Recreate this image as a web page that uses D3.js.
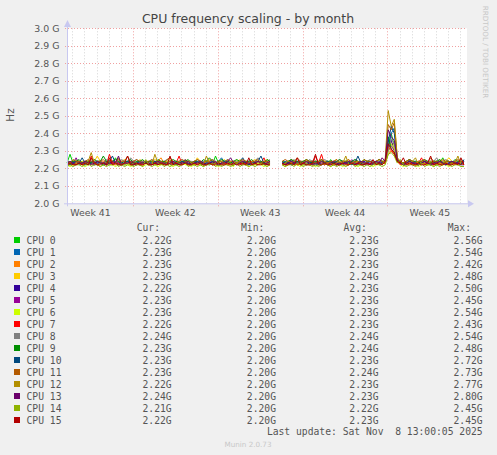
<!DOCTYPE html>
<html>
<head>
<meta charset="utf-8">
<script src="https://cdn.jsdelivr.net/npm/d3@7/dist/d3.min.js"></script>
<style>
body { margin:0; background:#f0f0f0; }
svg { display:block; }
text { font-family:"DejaVu Sans", sans-serif; }
.mono { font-family:"DejaVu Sans Mono", monospace; white-space:pre; }
</style>
</head>
<body>
<svg width="497" height="455"></svg>
<script>
/*
DATI
*/
var cpuNames = ["CPU 0","CPU 1","CPU 2","CPU 3","CPU 4","CPU 5","CPU 6","CPU 7",
	"CPU 8","CPU 9","CPU 10","CPU 11","CPU 12","CPU 13","CPU 14","CPU 15"];
var cpuColors = ["#00CC00","#0066B3","#FF8000","#FFCC00","#330099","#990099","#CCFF00","#FF0000",
	"#808080","#008F00","#00487D","#B35A00","#B38F00","#6B006B","#8FB300","#B30000"];

// legend columns
var curValues = ["2.22G","2.23G","2.23G","2.23G","2.22G","2.23G","2.23G","2.22G","2.24G","2.23G","2.23G","2.23G","2.22G","2.24G","2.21G","2.22G"];
var minValues = ["2.20G","2.20G","2.20G","2.20G","2.20G","2.20G","2.20G","2.20G","2.20G","2.20G","2.20G","2.20G","2.20G","2.20G","2.20G","2.20G"];
var avgValues = ["2.23G","2.23G","2.23G","2.24G","2.23G","2.23G","2.23G","2.23G","2.24G","2.24G","2.23G","2.24G","2.23G","2.23G","2.22G","2.23G"];
var maxValues = ["2.56G","2.54G","2.42G","2.48G","2.50G","2.45G","2.54G","2.43G","2.54G","2.48G","2.72G","2.73G","2.77G","2.80G","2.45G","2.45G"];

var yTicks = [2.0,2.1,2.2,2.3,2.4,2.5,2.6,2.7,2.8,2.9,3.0];

// one sample every 6 hours, GHz (null = no data)
var sampleStart = Date.UTC(2025,9,6,13,30);
var stepHours = 6;

var cpu0 = [2.23,2.28,2.23,2.22,2.23,2.24,2.22,2.23,2.23,2.22,2.24,2.23,2.22,2.23,2.24,2.23,2.26,2.23,2.22,2.23,2.24,2.22,
	2.23,2.22,2.24,2.23,2.23,2.22,2.23,2.24,2.22,2.23,2.23,2.24,2.22,2.23,2.23,2.22,2.24,2.23,2.22,2.23,2.24,2.23,
	2.22,2.23,2.24,2.23,2.22,2.27,2.23,2.22,2.23,2.24,2.23,2.22,2.23,2.23,2.24,2.22,2.23,2.23,2.22,2.24,2.23,2.23,
	2.23,2.22,null,null,null,2.23,2.22,2.23,2.24,2.23,2.22,2.23,2.23,2.24,2.22,2.23,2.23,2.22,2.24,2.23,2.22,2.25,
	2.23,2.22,2.23,2.24,2.23,2.22,2.23,2.23,2.24,2.22,2.23,2.23,2.22,2.24,2.23,2.23,2.22,2.24,2.33,2.40,2.33,2.25,
	2.23,2.22,2.23,2.24,2.23,2.22,2.23,2.23,2.24,2.22,2.23,2.23,2.22,2.23,2.26,2.23,2.22,2.24,2.23,2.22,2.23,2.23];
var cpu1 = [2.24,2.23,2.23,2.24,2.22,2.23,2.23,2.24,2.23,2.22,2.23,2.24,2.23,2.23,2.22,2.24,2.23,2.23,2.24,2.22,2.23,2.23,
	2.22,2.24,2.23,2.23,2.24,2.23,2.22,2.23,2.24,2.23,2.23,2.22,2.23,2.24,2.23,2.22,2.23,2.23,2.24,2.23,2.22,2.23,
	2.23,2.24,2.23,2.22,2.23,2.23,2.24,2.26,2.23,2.22,2.23,2.24,2.23,2.23,2.22,2.23,2.24,2.23,2.23,2.22,2.24,2.23,
	2.22,2.23,null,null,null,2.24,2.23,2.23,2.22,2.23,2.24,2.23,2.22,2.23,2.23,2.24,2.23,2.22,2.23,2.24,2.23,2.23,
	2.24,2.23,2.22,2.23,2.23,2.24,2.23,2.22,2.23,2.24,2.23,2.23,2.22,2.23,2.24,2.23,2.23,2.24,2.30,2.40,2.43,2.25,
	2.23,2.23,2.22,2.25,2.23,2.24,2.23,2.22,2.23,2.23,2.24,2.23,2.22,2.23,2.24,2.23,2.23,2.22,2.24,2.23,2.23,2.24];
var cpu2 = [2.23,2.22,2.24,2.23,2.23,2.22,2.23,2.24,2.23,2.23,2.22,2.23,2.24,2.22,2.23,2.23,2.24,2.23,2.22,2.23,2.23,2.24,
	2.23,2.22,2.23,2.24,2.23,2.22,2.23,2.23,2.24,2.26,2.23,2.22,2.23,2.24,2.23,2.23,2.22,2.23,2.24,2.23,2.22,2.23,
	2.24,2.23,2.22,2.23,2.23,2.24,2.22,2.23,2.23,2.24,2.23,2.22,2.23,2.23,2.24,2.23,2.22,2.23,2.24,2.23,2.23,2.22,
	2.23,2.24,null,null,null,2.23,2.22,2.23,2.24,2.23,2.22,2.23,2.23,2.25,2.23,2.22,2.24,2.23,2.23,2.22,2.23,2.24,
	2.23,2.22,2.23,2.24,2.23,2.23,2.22,2.24,2.23,2.23,2.22,2.23,2.24,2.23,2.22,2.23,2.23,2.23,2.28,2.30,2.29,2.24,
	2.23,2.22,2.24,2.23,2.23,2.22,2.23,2.24,2.23,2.22,2.23,2.23,2.24,2.23,2.22,2.23,2.24,2.23,2.23,2.22,2.23,2.23];
var cpu3 = [2.24,2.23,2.24,2.25,2.23,2.24,2.24,2.23,2.25,2.24,2.27,2.24,2.23,2.24,2.25,2.24,2.23,2.24,2.24,2.25,2.23,2.24,
	2.24,2.23,2.25,2.24,2.24,2.23,2.24,2.25,2.24,2.23,2.24,2.24,2.25,2.23,2.24,2.24,2.23,2.25,2.24,2.24,2.23,2.26,
	2.24,2.23,2.24,2.25,2.24,2.23,2.24,2.24,2.25,2.23,2.24,2.24,2.23,2.25,2.24,2.24,2.23,2.24,2.25,2.24,2.23,2.24,
	2.25,2.24,null,null,null,2.24,2.23,2.24,2.25,2.24,2.23,2.24,2.24,2.25,2.23,2.24,2.24,2.23,2.25,2.24,2.24,2.23,
	2.24,2.25,2.23,2.24,2.24,2.25,2.23,2.24,2.24,2.23,2.25,2.24,2.24,2.23,2.24,2.25,2.24,2.24,2.31,2.35,2.33,2.25,
	2.24,2.23,2.24,2.25,2.24,2.23,2.24,2.24,2.25,2.23,2.24,2.24,2.23,2.25,2.24,2.24,2.26,2.24,2.23,2.24,2.25,2.24];
var cpu4 = [2.23,2.23,2.22,2.24,2.23,2.23,2.22,2.23,2.24,2.23,2.22,2.23,2.23,2.24,2.22,2.23,2.23,2.24,2.23,2.22,2.23,2.23,
	2.24,2.23,2.22,2.23,2.23,2.24,2.23,2.22,2.23,2.24,2.23,2.23,2.22,2.23,2.24,2.23,2.23,2.25,2.22,2.23,2.24,2.23,
	2.23,2.22,2.23,2.24,2.23,2.23,2.22,2.23,2.24,2.23,2.22,2.23,2.23,2.24,2.23,2.22,2.23,2.23,2.24,2.22,2.23,2.23,
	2.24,2.23,null,null,null,2.23,2.22,2.23,2.25,2.23,2.24,2.22,2.23,2.23,2.24,2.23,2.22,2.23,2.24,2.23,2.23,2.22,
	2.23,2.24,2.23,2.22,2.23,2.23,2.24,2.23,2.22,2.23,2.24,2.23,2.23,2.22,2.23,2.24,2.23,2.23,2.33,2.36,2.30,2.24,
	2.23,2.22,2.23,2.24,2.23,2.23,2.22,2.23,2.24,2.23,2.22,2.23,2.24,2.23,2.23,2.22,2.23,2.24,2.23,2.23,2.22,2.22];
var cpu5 = [2.23,2.22,2.23,2.26,2.23,2.22,2.24,2.23,2.23,2.22,2.23,2.24,2.23,2.22,2.23,2.23,2.24,2.23,2.22,2.23,2.24,2.23,
	2.22,2.23,2.23,2.24,2.23,2.22,2.23,2.24,2.23,2.23,2.22,2.23,2.24,2.23,2.22,2.23,2.23,2.24,2.23,2.22,2.23,2.23,
	2.24,2.23,2.22,2.23,2.24,2.23,2.23,2.22,2.23,2.24,2.23,2.22,2.23,2.23,2.24,2.23,2.22,2.23,2.24,2.23,2.23,2.22,
	2.23,2.23,null,null,null,2.22,2.23,2.24,2.23,2.22,2.23,2.23,2.24,2.23,2.22,2.23,2.24,2.23,2.23,2.22,2.23,2.24,
	2.23,2.22,2.23,2.24,2.23,2.23,2.25,2.22,2.23,2.24,2.23,2.22,2.23,2.23,2.24,2.23,2.22,2.24,2.36,2.33,2.30,2.24,
	2.23,2.23,2.22,2.23,2.24,2.23,2.22,2.23,2.23,2.24,2.23,2.22,2.23,2.24,2.23,2.23,2.22,2.23,2.24,2.23,2.22,2.23];
var cpu6 = [2.22,2.21,2.22,2.22,2.23,2.22,2.21,2.22,2.22,2.23,2.22,2.21,2.22,2.23,2.22,2.22,2.21,2.22,2.23,2.22,2.22,2.21,
	2.22,2.23,2.22,2.21,2.22,2.22,2.23,2.22,2.21,2.22,2.22,2.23,2.22,2.21,2.22,2.22,2.23,2.22,2.22,2.21,2.22,2.23,
	2.22,2.21,2.22,2.23,2.22,2.22,2.21,2.22,2.23,2.22,2.22,2.21,2.25,2.22,2.23,2.22,2.21,2.22,2.22,2.23,2.22,2.21,
	2.22,2.22,null,null,null,2.22,2.21,2.22,2.23,2.22,2.22,2.21,2.22,2.23,2.22,2.22,2.21,2.22,2.22,2.23,2.22,2.21,
	2.22,2.23,2.22,2.21,2.22,2.22,2.23,2.22,2.21,2.22,2.22,2.23,2.22,2.21,2.22,2.22,2.23,2.23,2.29,2.34,2.31,2.24,
	2.22,2.21,2.22,2.23,2.22,2.22,2.21,2.22,2.23,2.22,2.22,2.21,2.22,2.23,2.22,2.22,2.21,2.22,2.23,2.22,2.22,2.23];
var cpu7 = [2.22,2.23,2.22,2.23,2.23,2.22,2.23,2.22,2.27,2.23,2.22,2.23,2.23,2.22,2.28,2.23,2.22,2.23,2.22,2.23,2.23,2.22,
	2.23,2.22,2.23,2.22,2.23,2.23,2.22,2.23,2.22,2.23,2.23,2.22,2.23,2.22,2.23,2.27,2.22,2.23,2.23,2.22,2.23,2.22,
	2.23,2.22,2.23,2.23,2.22,2.23,2.22,2.23,2.23,2.22,2.23,2.22,2.23,2.23,2.22,2.23,2.22,2.23,2.23,2.22,2.23,2.26,
	2.22,2.23,null,null,null,2.22,2.23,2.23,2.22,2.23,2.22,2.23,2.23,2.22,2.23,2.22,2.27,2.23,2.28,2.22,2.23,2.23,
	2.22,2.23,2.22,2.23,2.23,2.22,2.23,2.22,2.23,2.23,2.22,2.23,2.22,2.23,2.23,2.22,2.23,2.23,2.32,2.30,2.28,2.24,
	2.22,2.23,2.23,2.22,2.23,2.22,2.23,2.26,2.22,2.23,2.23,2.22,2.23,2.22,2.23,2.23,2.22,2.23,2.22,2.23,2.23,2.22];
var cpu8 = [2.24,2.23,2.24,2.25,2.24,2.23,2.24,2.24,2.25,2.23,2.24,2.24,2.23,2.25,2.24,2.24,2.23,2.24,2.25,2.24,2.23,2.26,
	2.24,2.25,2.23,2.24,2.24,2.23,2.25,2.24,2.24,2.23,2.24,2.25,2.24,2.23,2.24,2.24,2.25,2.23,2.24,2.24,2.23,2.25,
	2.24,2.24,2.23,2.24,2.25,2.24,2.23,2.24,2.24,2.25,2.23,2.24,2.24,2.23,2.25,2.24,2.24,2.23,2.24,2.26,2.24,2.23,
	2.24,2.25,null,null,null,2.24,2.23,2.24,2.24,2.25,2.23,2.24,2.24,2.23,2.25,2.24,2.24,2.23,2.24,2.25,2.24,2.23,
	2.24,2.24,2.25,2.23,2.24,2.24,2.23,2.25,2.24,2.24,2.23,2.24,2.25,2.24,2.23,2.24,2.24,2.24,2.30,2.37,2.34,2.25,
	2.24,2.23,2.24,2.25,2.24,2.23,2.24,2.24,2.25,2.23,2.24,2.24,2.26,2.23,2.24,2.25,2.24,2.23,2.24,2.24,2.25,2.24];
var cpu9 = [2.24,2.23,2.24,2.24,2.25,2.23,2.24,2.24,2.23,2.25,2.24,2.24,2.27,2.24,2.23,2.24,2.25,2.24,2.23,2.24,2.24,2.25,
	2.23,2.24,2.24,2.25,2.23,2.24,2.24,2.23,2.25,2.24,2.24,2.23,2.24,2.25,2.24,2.23,2.24,2.24,2.25,2.23,2.24,2.24,
	2.23,2.25,2.24,2.26,2.24,2.23,2.24,2.25,2.24,2.24,2.23,2.24,2.25,2.24,2.23,2.24,2.24,2.25,2.23,2.24,2.24,2.23,
	2.25,2.24,null,null,null,2.24,2.23,2.24,2.25,2.24,2.24,2.23,2.24,2.25,2.24,2.23,2.24,2.24,2.25,2.23,2.24,2.24,
	2.23,2.24,2.25,2.24,2.24,2.23,2.24,2.25,2.24,2.23,2.25,2.24,2.24,2.23,2.24,2.25,2.24,2.24,2.38,2.31,2.29,2.24,
	2.24,2.23,2.24,2.25,2.24,2.24,2.23,2.24,2.25,2.24,2.23,2.24,2.24,2.25,2.23,2.24,2.24,2.23,2.25,2.24,2.24,2.23];
var cpu10 = [2.23,2.22,2.23,2.24,2.23,2.26,2.23,2.22,2.23,2.24,2.23,2.23,2.22,2.23,2.24,2.27,2.23,2.22,2.23,2.23,2.24,2.23,
	2.22,2.23,2.24,2.23,2.23,2.22,2.23,2.24,2.23,2.22,2.23,2.23,2.24,2.23,2.22,2.23,2.24,2.23,2.23,2.22,2.23,2.24,
	2.23,2.22,2.23,2.23,2.24,2.23,2.22,2.23,2.24,2.23,2.23,2.22,2.23,2.24,2.26,2.23,2.22,2.23,2.23,2.24,2.27,2.23,
	2.22,2.23,null,null,null,2.23,2.24,2.23,2.22,2.23,2.23,2.24,2.23,2.22,2.23,2.24,2.23,2.23,2.22,2.23,2.24,2.23,
	2.23,2.22,2.23,2.24,2.23,2.23,2.22,2.23,2.27,2.23,2.22,2.23,2.24,2.23,2.23,2.22,2.23,2.24,2.35,2.44,2.40,2.25,
	2.23,2.22,2.23,2.24,2.23,2.23,2.22,2.23,2.24,2.23,2.22,2.23,2.23,2.24,2.23,2.22,2.23,2.24,2.23,2.23,2.22,2.25];
var cpu11 = [2.24,2.23,2.25,2.24,2.24,2.23,2.24,2.25,2.24,2.23,2.24,2.24,2.25,2.23,2.24,2.24,2.23,2.25,2.24,2.24,2.27,2.23,
	2.24,2.25,2.24,2.23,2.24,2.24,2.25,2.23,2.24,2.24,2.23,2.25,2.26,2.24,2.23,2.24,2.25,2.24,2.24,2.23,2.24,2.25,
	2.24,2.23,2.24,2.24,2.25,2.23,2.24,2.24,2.23,2.25,2.24,2.24,2.23,2.24,2.25,2.24,2.23,2.24,2.24,2.25,2.23,2.24,
	2.24,2.23,null,null,null,2.24,2.25,2.24,2.23,2.24,2.26,2.24,2.23,2.25,2.24,2.24,2.23,2.24,2.25,2.24,2.23,2.24,
	2.24,2.25,2.23,2.24,2.24,2.25,2.23,2.24,2.24,2.23,2.25,2.24,2.24,2.23,2.24,2.25,2.24,2.24,2.45,2.42,2.46,2.26,
	2.24,2.23,2.24,2.25,2.24,2.23,2.24,2.24,2.25,2.23,2.26,2.24,2.24,2.23,2.25,2.24,2.24,2.23,2.24,2.25,2.24,2.23];
var cpu12 = [2.22,2.23,2.22,2.23,2.23,2.22,2.23,2.24,2.29,2.23,2.22,2.23,2.23,2.22,2.23,2.24,2.23,2.26,2.22,2.23,2.23,2.22,
	2.23,2.23,2.22,2.23,2.24,2.23,2.22,2.28,2.23,2.22,2.23,2.23,2.24,2.22,2.23,2.23,2.22,2.23,2.24,2.23,2.22,2.23,
	2.23,2.22,2.27,2.23,2.22,2.23,2.23,2.24,2.22,2.23,2.23,2.22,2.23,2.24,2.23,2.22,2.23,2.23,2.22,2.24,2.23,2.22,
	2.23,2.23,null,null,null,2.22,2.23,2.24,2.23,2.22,2.23,2.23,2.22,2.24,2.23,2.22,2.23,2.23,2.24,2.22,2.23,2.23,
	2.22,2.23,2.24,2.23,2.27,2.22,2.23,2.23,2.24,2.22,2.23,2.23,2.22,2.23,2.24,2.23,2.22,2.25,2.53,2.44,2.48,2.26,
	2.23,2.22,2.23,2.23,2.24,2.26,2.22,2.23,2.23,2.22,2.24,2.23,2.22,2.23,2.23,2.24,2.22,2.23,2.23,2.27,2.22,2.23];
var cpu13 = [2.23,2.24,2.23,2.22,2.23,2.23,2.24,2.23,2.22,2.23,2.24,2.23,2.23,2.22,2.23,2.24,2.23,2.27,2.22,2.23,2.23,2.24,
	2.23,2.22,2.23,2.23,2.24,2.23,2.22,2.23,2.24,2.23,2.23,2.22,2.23,2.24,2.23,2.22,2.23,2.23,2.24,2.22,2.23,2.23,
	2.24,2.23,2.22,2.23,2.23,2.24,2.22,2.23,2.23,2.24,2.26,2.23,2.22,2.23,2.24,2.23,2.23,2.22,2.23,2.24,2.23,2.22,
	2.23,2.24,null,null,null,2.23,2.22,2.23,2.24,2.23,2.23,2.22,2.23,2.24,2.23,2.22,2.23,2.23,2.24,2.23,2.22,2.23,
	2.24,2.23,2.22,2.23,2.23,2.24,2.23,2.22,2.23,2.24,2.23,2.23,2.22,2.23,2.24,2.23,2.26,2.24,2.42,2.38,2.36,2.25,
	2.23,2.22,2.23,2.24,2.23,2.23,2.22,2.23,2.24,2.23,2.22,2.23,2.23,2.24,2.23,2.22,2.23,2.24,2.23,2.23,2.22,2.24];
var cpu14 = [2.21,2.22,2.21,2.22,2.22,2.21,2.22,2.23,2.21,2.22,2.22,2.21,2.22,2.21,2.22,2.22,2.23,2.21,2.22,2.21,2.22,2.22,
	2.21,2.22,2.22,2.21,2.25,2.22,2.21,2.22,2.22,2.23,2.21,2.22,2.21,2.22,2.22,2.21,2.22,2.23,2.21,2.22,2.22,2.21,
	2.22,2.21,2.22,2.22,2.23,2.21,2.22,2.21,2.22,2.22,2.21,2.22,2.23,2.21,2.22,2.22,2.21,2.22,2.21,2.22,2.23,2.22,
	2.21,2.22,null,null,null,2.22,2.21,2.22,2.22,2.21,2.23,2.22,2.21,2.22,2.22,2.21,2.22,2.21,2.22,2.23,2.22,2.21,
	2.22,2.21,2.22,2.22,2.21,2.22,2.23,2.21,2.22,2.22,2.21,2.22,2.21,2.22,2.23,2.22,2.21,2.22,2.28,2.29,2.27,2.23,
	2.25,2.22,2.21,2.22,2.22,2.21,2.22,2.23,2.21,2.22,2.22,2.21,2.22,2.21,2.22,2.23,2.22,2.21,2.22,2.22,2.21,2.21];
var cpu15 = [2.22,2.23,2.22,2.22,2.23,2.22,2.23,2.22,2.26,2.23,2.22,2.22,2.23,2.22,2.26,2.22,2.23,2.22,2.22,2.23,2.27,2.22,
	2.22,2.23,2.22,2.22,2.23,2.22,2.22,2.23,2.22,2.23,2.22,2.22,2.27,2.22,2.23,2.22,2.22,2.23,2.22,2.22,2.23,2.22,
	2.23,2.22,2.22,2.23,2.22,2.22,2.23,2.22,2.22,2.23,2.22,2.23,2.22,2.22,2.23,2.22,2.26,2.22,2.23,2.22,2.22,2.23,
	2.22,2.22,null,null,null,2.23,2.22,2.22,2.23,2.22,2.26,2.22,2.23,2.22,2.22,2.23,2.28,2.22,2.22,2.23,2.22,2.22,
	2.23,2.22,2.22,2.23,2.22,2.22,2.23,2.22,2.23,2.22,2.22,2.23,2.22,2.25,2.22,2.23,2.22,2.24,2.34,2.31,2.29,2.24,
	2.23,2.26,2.22,2.23,2.22,2.22,2.23,2.22,2.22,2.23,2.27,2.22,2.23,2.22,2.22,2.23,2.22,2.22,2.23,2.22,2.26,2.22];

var serie = [cpu0,cpu1,cpu2,cpu3,cpu4,cpu5,cpu6,cpu7,cpu8,cpu9,cpu10,cpu11,cpu12,cpu13,cpu14,cpu15];

/*
SCALE E AREA DEL GRAFICO
*/
var svg = d3.select("svg");
var sinistra = 67, destra = 467, alto = 28.3, basso = 203.3;
var fineGrafico = Date.UTC(2025,10,8,13,30);
var inizioGrafico = fineGrafico - 33*24*3600*1000;

var x = d3.scaleUtc().domain([new Date(inizioGrafico), new Date(fineGrafico)]).range([sinistra, destra]);
var y = d3.scaleLinear().domain([2.0, 3.0]).range([basso, alto]);

var testo = "#555";

svg.append("rect").attr("x",0).attr("y",0).attr("width",497).attr("height",455).attr("fill","#f0f0f0");
svg.append("rect").attr("x",sinistra).attr("y",alto).attr("width",destra-sinistra).attr("height",basso-alto).attr("fill","#ffffff");

//griglia minore (giorni)
var giorni = d3.utcDay.range(x.domain()[0], x.domain()[1]).filter(function(d){ return d.getUTCDay() != 0; });
svg.append("g").selectAll("line").data(giorni).enter().append("line")
	.attr("x1", function(d){ return Math.round(x(d))+0.5 })
	.attr("x2", function(d){ return Math.round(x(d))+0.5 })
	.attr("y1", alto).attr("y2", basso)
	.style("stroke", "#d4d4d4")
	.style("stroke-dasharray", "1,2");

//griglia maggiore (settimane)
var settimane = d3.utcSunday.range(x.domain()[0], x.domain()[1]);
svg.append("g").selectAll("line").data(settimane).enter().append("line")
	.attr("x1", function(d){ return Math.round(x(d))+0.5 })
	.attr("x2", function(d){ return Math.round(x(d))+0.5 })
	.attr("y1", alto).attr("y2", basso+3)
	.style("stroke", "#f0a0a0")
	.style("stroke-dasharray", "1,2");

svg.append("g").selectAll("line").data(yTicks.slice(1)).enter().append("line")
	.attr("x1", sinistra-2).attr("x2", destra)
	.attr("y1", function(d){ return Math.round(y(d))+0.5 })
	.attr("y2", function(d){ return Math.round(y(d))+0.5 })
	.style("stroke", "#f0a0a0")
	.style("stroke-dasharray", "1,2");

//etichette asse y
svg.append("g").selectAll("text").data(yTicks).enter().append("text")
	.attr("x", 59.5)
	.attr("y", function(d){ return y(d)+3.4 })
	.attr("text-anchor", "end")
	.style("font-size", "9.4px")
	.style("fill", testo)
	.text(function(d){ return d3.format(".1f")(d) + " G" });

//etichette settimane
var etichetteSett = d3.utcSunday.range(d3.utcSunday.floor(x.domain()[0]), x.domain()[1])
	.map(function(d){ return new Date(+d + 3.5*24*3600*1000) })
	.filter(function(d){ return d >= x.domain()[0] && d <= x.domain()[1] });
svg.append("g").selectAll("text").data(etichetteSett).enter().append("text")
	.attr("x", function(d){ return x(d) })
	.attr("y", 216)
	.attr("text-anchor", "middle")
	.style("font-size", "9.4px")
	.style("fill", testo)
	.text(function(d){ return "Week " + d3.utcFormat("%V")(d) });

//linee cpu
var tempi = cpu0.map(function(d,i){ return new Date(sampleStart + i*stepHours*3600*1000) });
var linea = d3.line()
	.defined(function(d){ return d != null })
	.x(function(d,i){ return x(tempi[i]) })
	.y(function(d){ return y(d) });

svg.append("g").selectAll("path").data(serie).enter().append("path")
	.attr("d", linea)
	.attr("fill", "none")
	.attr("stroke", function(d,i){ return cpuColors[i] })
	.attr("stroke-width", 1)
	.attr("stroke-linejoin", "round");

//assi con frecce
var asse = "#c8c8f0";
svg.append("line").attr("x1", sinistra+0.5).attr("x2", sinistra+0.5).attr("y1", basso+3).attr("y2", 24)
	.style("stroke", asse);
svg.append("line").attr("x1", sinistra-3).attr("x2", destra+1).attr("y1", basso+0.5).attr("y2", basso+0.5)
	.style("stroke", asse);
svg.append("path").attr("d", "M"+(sinistra-3)+",27 L"+(sinistra+0.5)+",20 L"+(sinistra+4)+",27 Z").attr("fill", asse);
svg.append("path").attr("d", "M"+(destra+1)+","+(basso-3)+" L"+(destra+7)+","+(basso+0.5)+" L"+(destra+1)+","+(basso+4)+" Z").attr("fill", asse);

//titolo e scritte
svg.append("text").attr("x", 248).attr("y", 23).attr("text-anchor", "middle")
	.style("font-size", "12.5px").style("fill", "#444")
	.text("CPU frequency scaling - by month");
svg.append("text").attr("transform", "translate(14,115) rotate(-90)").attr("text-anchor", "middle")
	.style("font-size", "10.5px").style("fill", testo)
	.text("Hz");
svg.append("text").attr("transform", "translate(483,52) rotate(90)").attr("text-anchor", "middle")
	.style("font-size", "7.2px").style("fill", "#c8c8c8")
	.text("RRDTOOL / TOBI OETIKER");

/*
LEGENDA
*/
var colonne = [{nome:"Cur:", valori:curValues, xv:171.7},
	{nome:"Min:", valori:minValues, xv:276},
	{nome:"Avg:", valori:avgValues, xv:378.5},
	{nome:"Max:", valori:maxValues, xv:482.7}];

var leg = svg.append("g").attr("class", "mono").style("font-size", "9.7px").style("fill", testo);
leg.selectAll(".intest").data(colonne).enter().append("text")
	.attr("class", "mono intest")
	.attr("x", function(d){ return d.xv - 35 })
	.attr("y", 230.5)
	.text(function(d){ return d.nome });

var righe = leg.selectAll(".riga").data(cpuNames).enter().append("g")
	.attr("class", "riga")
	.attr("transform", function(d,i){ return "translate(0," + (240 + i*12) + ")" });
righe.append("rect").attr("x", 14).attr("y", -3).attr("width", 6).attr("height", 6)
	.attr("fill", function(d,i){ return cpuColors[i] });
righe.append("text").attr("class", "mono").attr("x", 26.5).attr("y", 3.5)
	.text(function(d){ return d });
colonne.forEach(function(c){
	righe.append("text").attr("class", "mono").attr("x", c.xv).attr("y", 3.5).attr("text-anchor", "end")
		.text(function(d,i){ return c.valori[i] });
});

leg.append("text").attr("class", "mono").attr("x", 482.7).attr("y", 435).attr("text-anchor", "end")
	.text("Last update: Sat Nov  8 13:00:05 2025");

svg.append("text").attr("x", 248).attr("y", 447).attr("text-anchor", "middle")
	.style("font-size", "7.2px").style("fill", "#c8c8c8")
	.text("Munin 2.0.73");
</script>
</body>
</html>
